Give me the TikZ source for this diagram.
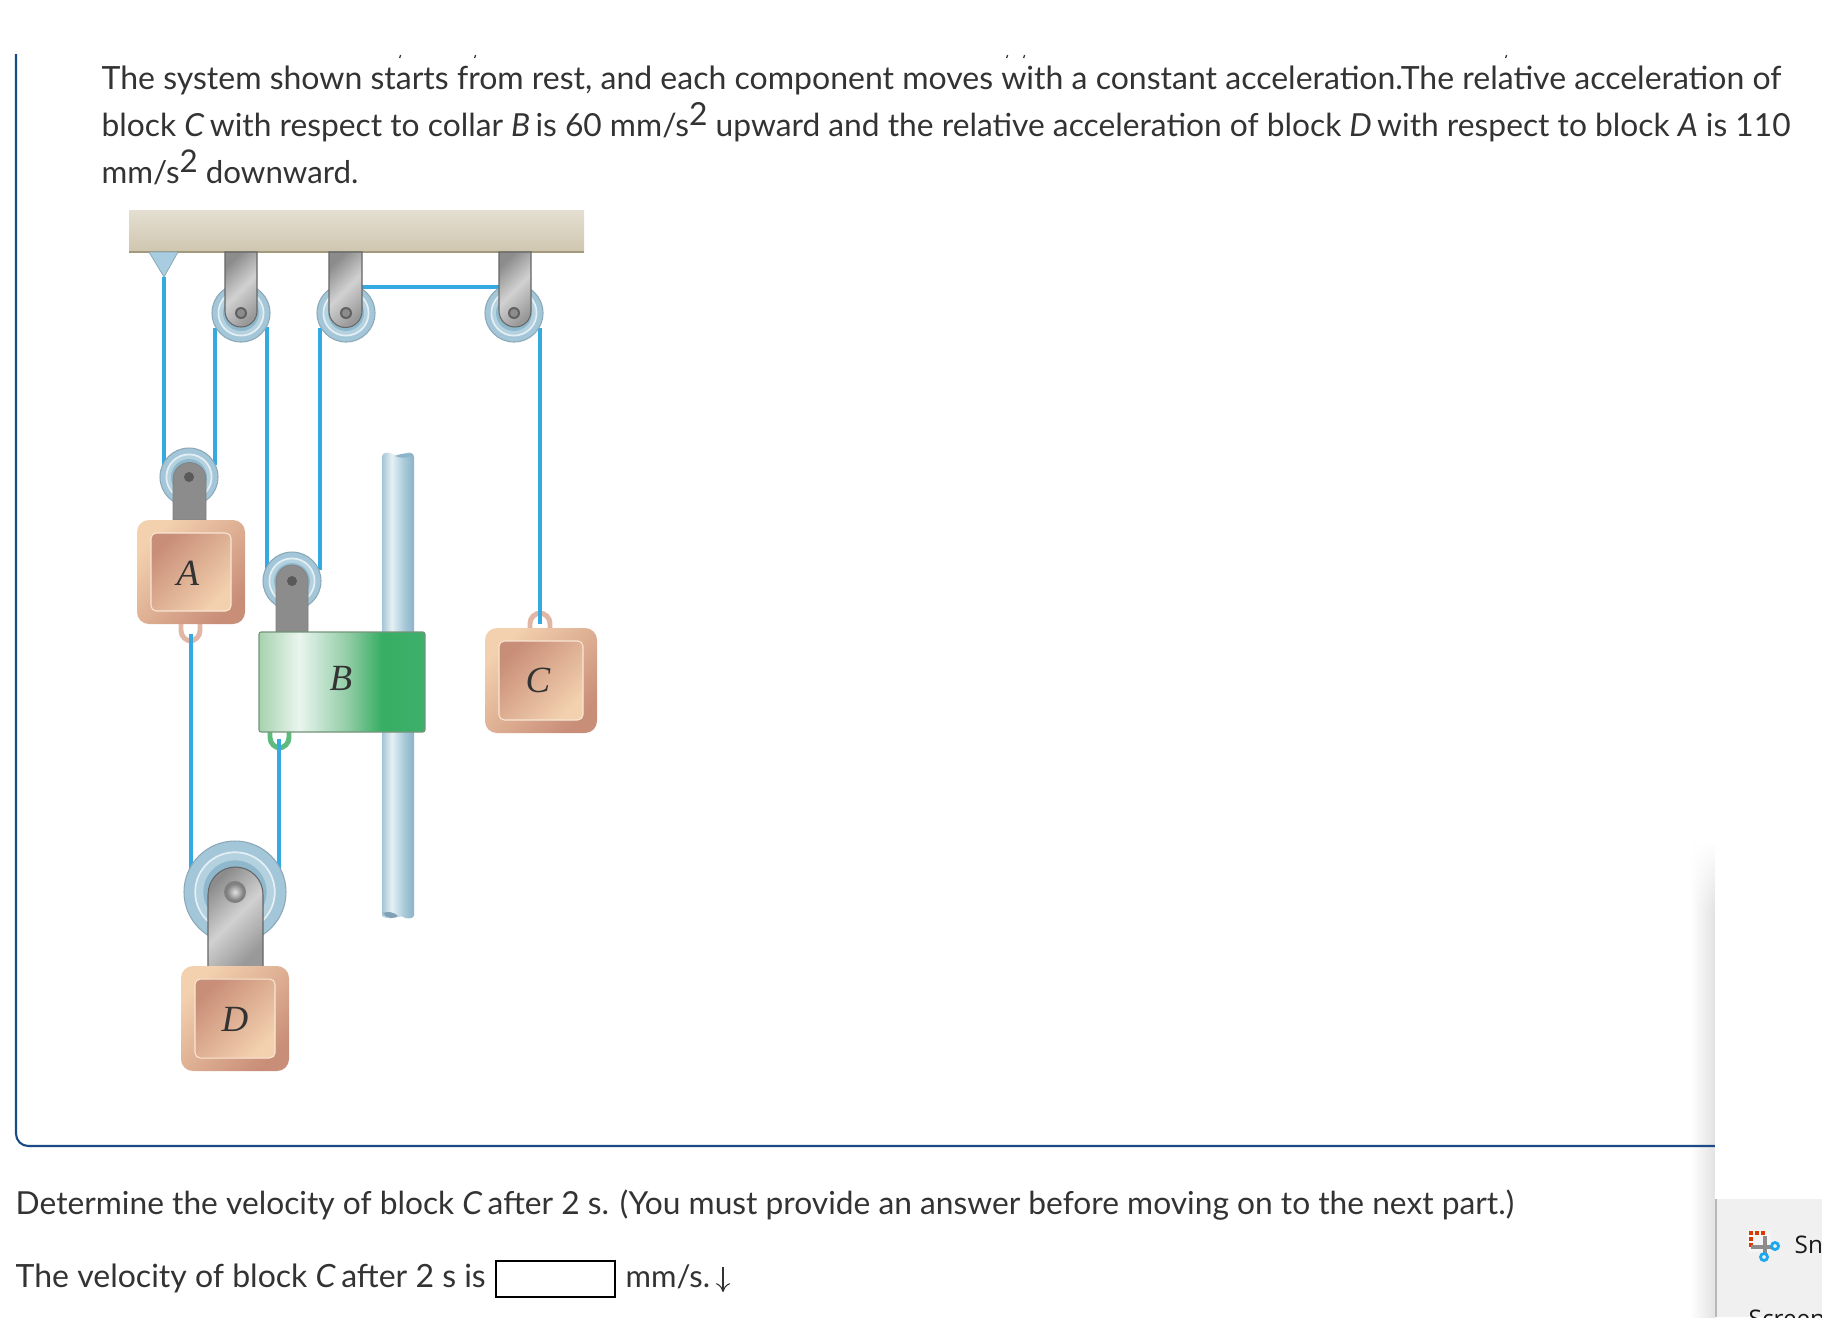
\documentclass[tikz,border=0pt]{standalone}
\usepackage{fontspec}
\usetikzlibrary{arrows.meta,fadings}
\setmainfont{Lato}
\newfontfamily\labfont{Liberation Serif}
\newfontfamily\uifont{Open Sans}

\definecolor{ropeblue}{HTML}{35A9E1}
\definecolor{framecol}{HTML}{1C4A85}
\definecolor{txtcol}{HTML}{333333}
\definecolor{rodA}{HTML}{A4C5D6}
\definecolor{rodB}{HTML}{E6F0F4}
\definecolor{rodC}{HTML}{A6C8D9}
\definecolor{rodD}{HTML}{8CB3C9}
\definecolor{colA}{HTML}{A6D2AE}
\definecolor{colB}{HTML}{EAF5EE}
\definecolor{colM}{HTML}{8FCCA4}
\definecolor{colC}{HTML}{36AE63}
\definecolor{colD}{HTML}{3DB06B}
\definecolor{blockhi}{HTML}{F3D1AF}
\definecolor{blocklo}{HTML}{C98E78}
\definecolor{blockedge}{HTML}{F8E6D3}
\definecolor{pulleyout}{HTML}{A3C6D8}
\definecolor{pulleyin}{HTML}{B4D1DF}
\definecolor{pulleycore}{HTML}{8FB8CD}
\definecolor{pulleyring}{HTML}{E3EFF4}
\definecolor{ceilA}{HTML}{E4DFD2}
\definecolor{ceilB}{HTML}{CFC6AF}
\definecolor{ceilC}{HTML}{A39A7E}
\definecolor{anchorblue}{HTML}{A8CDE0}
\definecolor{ringpink}{HTML}{E2B6A4}
\definecolor{ringgreen}{HTML}{5DBB7E}
\definecolor{panelgrey}{HTML}{F0F0F0}
\definecolor{snipred}{HTML}{D83B01}
\definecolor{snipblue}{HTML}{1DA8EE}
\pgfdeclarehorizontalshading{rodshade}{100bp}{color(0bp)=(rodA); color(25bp)=(rodA); color(40bp)=(rodB); color(60bp)=(rodC); color(75bp)=(rodD); color(100bp)=(rodD)}
\pgfdeclarehorizontalshading{collarshade}{100bp}{color(0bp)=(colA); color(25bp)=(colA); color(37bp)=(colB); color(52bp)=(colM); color(62bp)=(colC); color(75bp)=(colD); color(100bp)=(colD)}

\tikzset{
  txt/.style={anchor=base west,inner sep=0pt,text=txtcol,font=\fontsize{#1}{11pt}\selectfont},
  txt/.default=9.1pt,
  uitxt/.style={anchor=base west,inner sep=0pt,text=black!90,font=\uifont\fontsize{6.9pt}{9pt}\selectfont},
  rope/.style={draw=ropeblue,line width=1.2pt},
  ringloop/.style={line width=1.4pt,fill=white,rounded corners=3pt},
  blocklab/.style={inner sep=0pt,text=black!80,font=\labfont\itshape\fontsize{10.5pt}{12pt}\selectfont},
  hanger/.style={top color=black!45,bottom color=black!40,middle color=black!18,shading angle=45,draw=black!60,line width=.3pt},
  flathanger/.style={fill=black!45,draw=black!50,line width=.2pt},
  outerblock/.style={top color=blockhi,bottom color=blocklo,shading angle=45,rounded corners=3.4pt},
  innerblock/.style={top color=blocklo,bottom color=blockhi,shading angle=45,draw=blockedge,line width=.3pt,rounded corners=1.5pt},
}

\begin{document}
\begin{tikzpicture}[x=0.01cm,y=-0.01cm]
  \useasboundingbox (0,0) rectangle (1822,1317);
  \clip (0,0) rectangle (1822,1317);
  \fill[white] (0,0) rectangle (1822,1317);

  % question text
  \node[txt] (lineone) at (101,89) {The system shown starts from rest, and each component moves with a constant acceleration.The relative acceleration of};
  \node[txt=9.03pt] (linetwo) at (101,136) {block \textit{C}\,with respect to collar \textit{B}\,is 60 mm/s\raisebox{2.9pt}{2} upward and the relative acceleration of block \textit{D}\,with respect to block \textit{A} is 110};
  \node[txt=8.9pt] (linethree) at (101,183) {mm/s\raisebox{2.9pt}{2} downward.};
  \node[txt=9.02pt] (ask) at (15,1214) {Determine the velocity of block \textit{C}\,after 2 s. (You must provide an answer before moving on to the next part.)};
  \node[txt] (answer) at (15,1287) {The velocity of block \textit{C}\,after 2 s is};
  \node[draw=black,line width=.6pt,minimum width=1.19cm,minimum height=.36cm,inner sep=0pt] (box) at (555.5,1279) {};
  \node[txt=8.8pt] (unit) at (625,1287) {mm/s.};
  \coordinate (downA) at (723,1267);
  \coordinate (downB) at (723,1292);
  \draw[txtcol,line width=.3pt,-{To[length=2.5pt,width=4pt]}] (downA) -- (downB);

  % clipped marks of the line above
  \foreach \x in {400,475,1007,1024,1506} {
    \draw[black!80,line width=.35pt] (\x+.6,55) -- (\x-.4,58);
  }

  % ceiling
  \shade[top color=ceilA,bottom color=ceilB] (129,210) rectangle (584,252);
  \draw[ceilC,line width=.35pt] (129,252) -- (584,252);
  \fill[anchorblue,draw=anchorblue!80!black,line width=.2pt] (149,252) -- (178,252) -- (164,277) -- cycle;

  % ropes
  \foreach \x/\a/\b in {164/277/465,215/328/465,267/327/570,320/328/570,540/328/625,191/635/875,279/740/875} {
    \draw[rope] (\x,\a) -- (\x,\b);
  }
  \draw[rope] (362,287) -- (499,287);

  % pulleys
  \foreach \x/\y/\r in {241/313/29,346/313/29,514/313/29,189/477/29,292/581/29,235/892/51} {
    \fill[pulleyout,draw=pulleyout!85!black,line width=.3pt] (\x,\y) circle [radius=\r];
    \fill[pulleyin,draw=pulleyring,line width=.5pt] (\x,\y) circle [radius=0.78*\r];
    \fill[pulleycore] (\x,\y) circle [radius=0.62*\r];
  }

  % fixed hangers
  \foreach \xa/\xb in {225/257,329/362,499/531} {
    \shade[hanger] (\xa,252) -- (\xa,311) arc [start angle=180,end angle=0,radius=(\xb-\xa)/2] -- (\xb,252) -- cycle;
  }
  \foreach \x in {241,346,514} {
    \fill[black!62] (\x,313) circle [radius=6];
    \fill[black!45] (\x,313) circle [radius=4];
  }

  % moving hangers
  \foreach \xa/\xb/\yc/\yb in {173/206/479/520,276/308/581/632} {
    \fill[flathanger] (\xa,\yb) -- (\xa,\yc) arc [start angle=180,end angle=360,radius=(\xb-\xa)/2] -- (\xb,\yb) -- cycle;
  }
  \fill[black!65] (189,477) circle [radius=5];
  \fill[black!65] (292,581) circle [radius=5];
  \shade[hanger] (208,967) -- (208,894.5) arc [start angle=180,end angle=360,radius=27.5] -- (263,967) -- cycle;
  \fill[black!50] (235,892) circle [radius=11];
  \shade[inner color=black!12,outer color=black!50] (235,892) circle [radius=8.5];

  % rod
  \shade[shading=rodshade] (382,916) -- (382,457) .. controls (382,453) and (386,452) .. (390,453) .. controls (396,456) and (402,456) .. (406,453) .. controls (410,452) and (414,453) .. (414,457) -- (414,915) .. controls (414,918) and (410,919) .. (405,918) .. controls (402,916) and (400,916) .. (398,917) .. controls (394,919) and (386,919) .. (382,916) -- cycle;
  \fill[rodD] (395,456) .. controls (400,454) and (406,452) .. (413,455) .. controls (406,459) and (400,458) .. (395,456) -- cycle;
  \fill[rodD!90!black] (383,913) .. controls (388,911) and (394,912) .. (398,916) .. controls (394,919) and (386,919) .. (383,913) -- cycle;

  % rings
  \draw[ringloop,draw=ringpink] (181,612) rectangle (200,641);
  \draw[ringloop,draw=ringpink] (530,613) rectangle (550,642);
  \draw[ringloop,draw=ringgreen] (270,720) rectangle (289,748);
  \draw[rope] (191,634) -- (191,645);
  \draw[rope] (279,739) -- (279,752);
  \draw[rope] (540,608) -- (540,624);

  % blocks
  \foreach \n/\xa/\ya/\xb/\yb/\lx/\ly in {A/137/520/245/624/188/573,C/485/628/597/733/538/680,D/181/966/289/1071/235/1019} {
    \shade[outerblock] (\xa,\ya) rectangle (\xb,\yb);
    \shade[innerblock] (\xa+14,\ya+13) rectangle (\xb-14,\yb-13);
    \node[blocklab] (lab\n) at (\lx,\ly) {\n};
  }
  \shade[shading=collarshade,rounded corners=.6pt] (259,632) rectangle (425,732);
  \draw[colA!70!black,line width=.3pt,rounded corners=.6pt] (259,632) rectangle (425,732);
  \node[blocklab] (labB) at (341,678) {B};

  % page frame
  \shade[left color=white,right color=black!11,path fading=north] (1690,842) rectangle (1715,910);
  \shade[left color=white,right color=black!11] (1690,910) rectangle (1715,1317);
  \draw[framecol,line width=.6pt,rounded corners=3.5pt] (16,54) -- (16,1146) -- (1715,1146);

  % side panel
  \fill[white,rounded corners=3.5pt] (1715,1250) -- (1715,839) -- (1840,839) -- (1840,1250) -- cycle;
  \fill[panelgrey] (1715,1199) rectangle (1822,1317);
  \fill[black!28] (1715,1199) rectangle (1717,1317);
  \fill[black!4,rounded corners=1pt] (1747,1230) rectangle (1771,1252);
  \foreach \x/\y in {1749/1231,1755/1231,1761/1231,1749/1237,1749/1243} {
    \fill[snipred] (\x,\y) rectangle (\x+4,\y+4);
  }
  \draw[black!45,line width=.9pt] (1765,1236) -- (1765,1253) (1751,1247) -- (1773,1247);
  \draw[snipblue,line width=.8pt] (1775,1246) circle [radius=3.5] (1764,1257) circle [radius=3.5];
  \node[uitxt] (snip) at (1794,1253) {Sn};
  \node[uitxt] (screen) at (1748,1327) {Screen};
\end{tikzpicture}
\end{document}
